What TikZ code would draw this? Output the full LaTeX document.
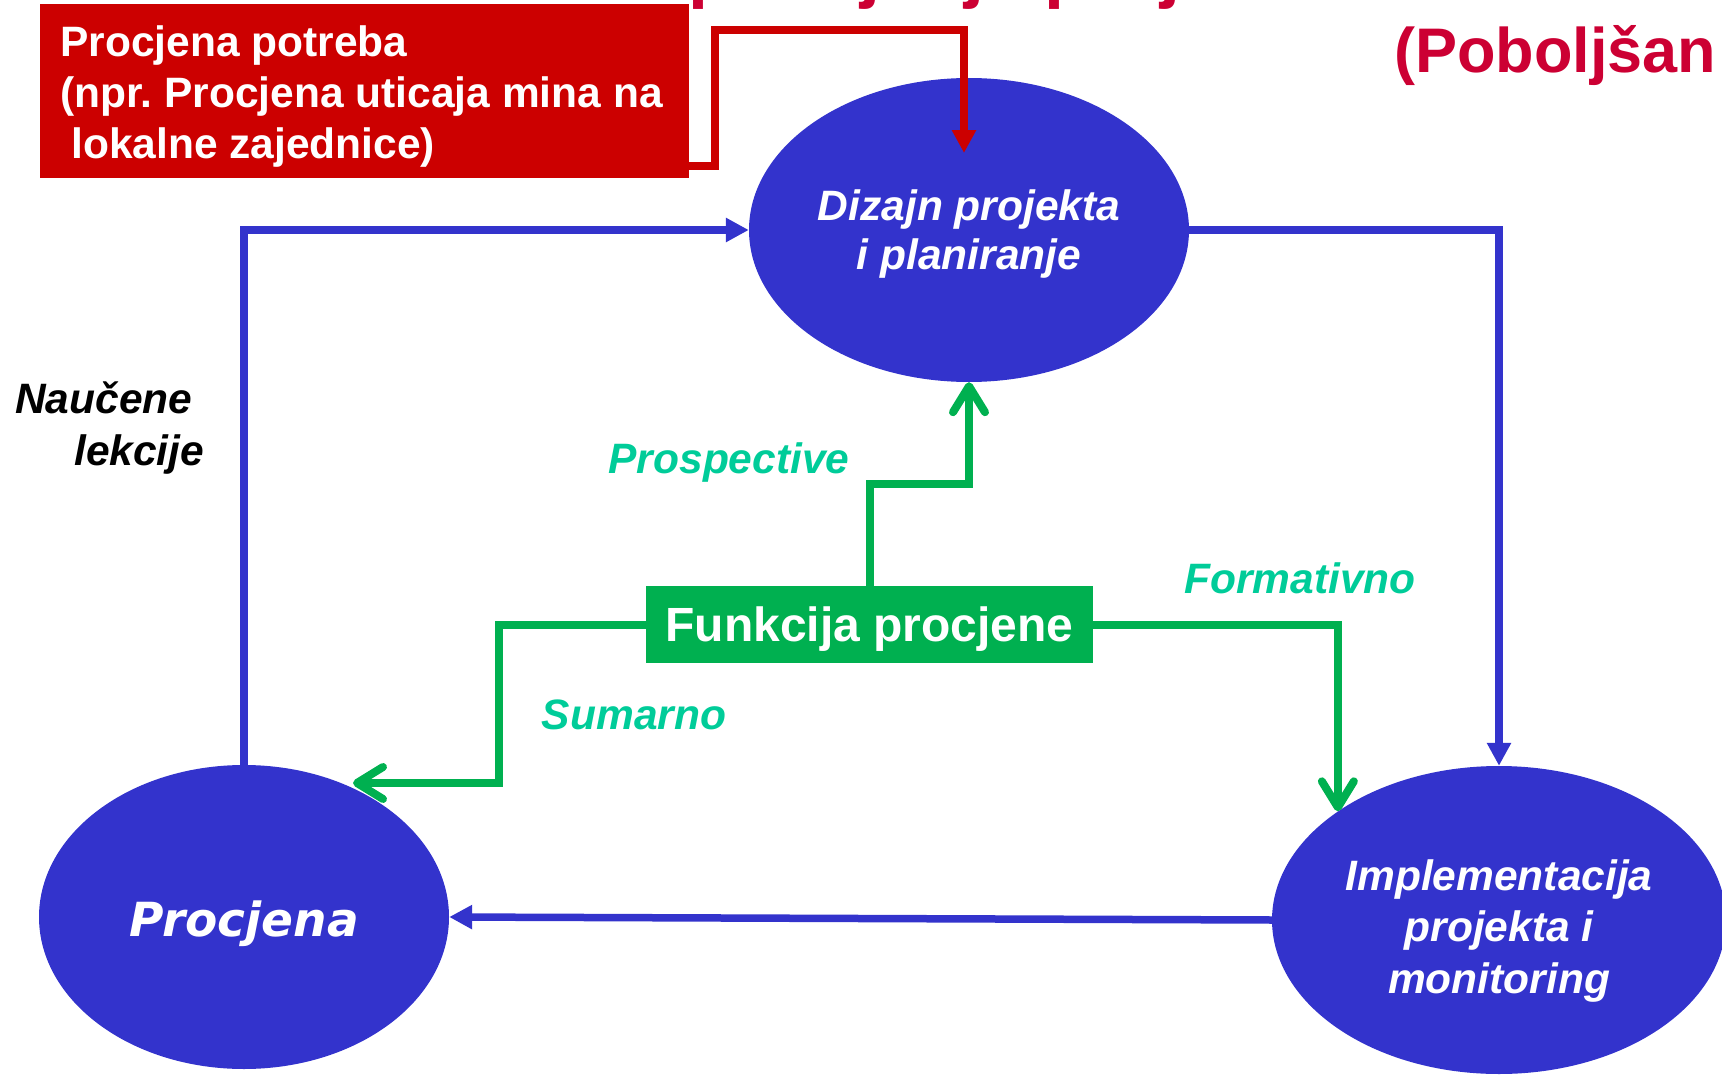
\documentclass[tikz,border=0pt]{standalone}
\usepackage{fontspec}
\setmainfont{Liberation Sans}
\newfontfamily\procfont{DejaVu Sans}
\usetikzlibrary{shapes.geometric}
\usetikzlibrary{arrows.meta}
\usetikzlibrary{calc}

\definecolor{ovalblue}{RGB}{51,51,204}
\definecolor{boxred}{RGB}{204,0,0}
\definecolor{titlered}{RGB}{204,0,51}
\definecolor{funcgreen}{RGB}{0,176,80}
\definecolor{labelgreen}{RGB}{0,204,153}

\tikzset{
	oval/.style={ellipse, fill=ovalblue, inner sep=0pt},
	ovaltext/.style={text=white, align=center, inner sep=0pt,
		font=\bfseries\itshape\fontsize{42.5}{49}\selectfont},
	blueline/.style={draw=ovalblue, line width=7.5pt, -{Triangle[width=23pt,length=23pt]}},
	redline/.style={draw=boxred, line width=7.5pt, -{Triangle[width=23pt,length=23pt]}},
	greenline/.style={draw=funcgreen, line width=8pt, -{Straight Barb[length=26pt,width=32pt,round]}},
	flowlabel/.style={text=labelgreen, anchor=base, inner sep=0pt,
		font=\bfseries\itshape\fontsize{42.5}{49}\selectfont},
}

\begin{document}
\frenchspacing
\begin{tikzpicture}[x=1pt,y=-1pt]
	% page 1722 x 1081, y runs downwards
	\useasboundingbox (0,0) rectangle (1722,1081);

	% titles, cut by the page edge
	\node[anchor=base west, inner sep=0pt, text=titlered, font=\bfseries\fontsize{72}{80}\selectfont] (title) at (636,-5) {Upravljanje projektom};
	\node[anchor=base west, inner sep=0pt, text=titlered, font=\bfseries\fontsize{63}{70}\selectfont] (subtitle) at (1394,73) {(Poboljšan};

	% needs assessment box
	\node[fill=boxred, minimum width=649pt, minimum height=174pt, inner sep=0pt] (needs) at (364.5,91) {};
	\node[text=white, inner sep=0pt, align=left, font=\bfseries\fontsize{42.5}{51}\selectfont] (needs-text)
		at ([xshift=-3pt,yshift=-5.5pt]needs.center)
		{Procjena potreba\\(npr. Procjena uticaja mina na\\\hspace*{11pt}lokalne zajednice)};

	% the three stages
	\node[oval, minimum width=440pt, minimum height=304pt] (design) at (969,230) {};
	\node[oval, minimum width=410pt, minimum height=304pt] (procjena) at (244,917) {};
	\node[oval, minimum width=454pt, minimum height=308pt] (impl) at (1499,920) {};
	\node[ovaltext] (design-text) at ([yshift=-4pt]design.center) {Dizajn projekta\\i planiranje};
	\node[ovaltext, font=\procfont\bfseries\itshape\fontsize{47}{56}\selectfont] (procjena-text)
		at ([yshift=-7pt]procjena.center) {Procjena};
	\node[ovaltext, font=\bfseries\itshape\fontsize{42.5}{51.5}\selectfont] (impl-text)
		at ([yshift=-11pt]impl.center) {Implementacija\\projekta i\\monitoring};

	% function box
	\node[fill=funcgreen, text=white, minimum width=447pt, minimum height=77pt, inner sep=0pt,
		text depth=0pt, font=\bfseries\fontsize{48}{56}\selectfont] (func) at (869.5,624.5) {Funkcija procjene};

	% labels
	\node[anchor=base west, inner sep=0pt, font=\bfseries\itshape\fontsize{42.5}{49}\selectfont] (lessons1) at (15,413) {Naučene};
	\node[anchor=base west, inner sep=0pt, font=\bfseries\itshape\fontsize{42.5}{49}\selectfont] (lessons2) at (74,465) {lekcije};
	\node[flowlabel] (prosp) at (729,473) {Prospective};
	\node[flowlabel] (form) at (1300,593) {Formativno};
	\node[flowlabel] (sum) at (634,729) {Sumarno};

	% blue cycle
	\draw[blueline] (design.east) -| (impl.north);
	\draw[blueline] (impl.west) -- (procjena.east);
	\draw[blueline] (procjena.north) |- (design.west);

	% red input
	\draw[redline] (needs.east |- 0,166) -- (715,166) -- (715,30) -| ($(design.center)+(-5,-77)$);

	% green functions
	\coordinate (sumtip) at (353,783);
	\draw[greenline] (func.north) |- ($(func.north)!.5!(design.south)$) -| (design.south);
	\draw[greenline] (func.east) -| (impl.146);
	\draw[greenline] (func.west) -| ([xshift=146pt]sumtip) -- (sumtip);
\end{tikzpicture}
\end{document}
